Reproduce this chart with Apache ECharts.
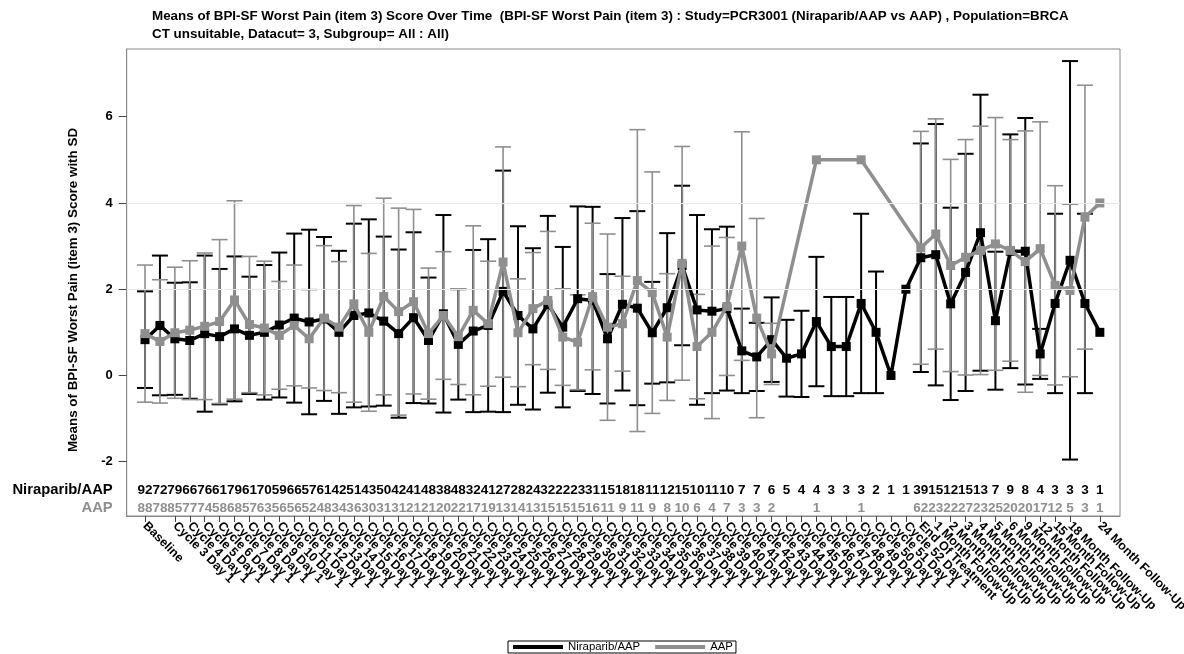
<!DOCTYPE html>
<html>
<head>
<meta charset="utf-8">
<title>Means of BPI-SF Worst Pain (item 3) Score Over Time</title>
<script src="https://cdn.jsdelivr.net/npm/echarts@6.0.0/dist/echarts.min.js"></script>
<style>
    html, body { margin: 0; padding: 0; background: #fff; }
    #chart { width: 1184px; height: 654px; }
</style>
</head>
<body>
<div id="chart"></div>
<script type="text/javascript">

    // visit labels (x axis)
    var categories = [
        'Baseline', 'Cycle 2 Day 1', 'Cycle 3 Day 1', 'Cycle 4 Day 1', 'Cycle 5 Day 1', 'Cycle 6 Day 1',
        'Cycle 7 Day 1', 'Cycle 8 Day 1', 'Cycle 9 Day 1', 'Cycle 10 Day 1', 'Cycle 11 Day 1', 'Cycle 12 Day 1',
        'Cycle 13 Day 1', 'Cycle 14 Day 1', 'Cycle 15 Day 1', 'Cycle 16 Day 1', 'Cycle 17 Day 1', 'Cycle 18 Day 1',
        'Cycle 19 Day 1', 'Cycle 20 Day 1', 'Cycle 21 Day 1', 'Cycle 22 Day 1', 'Cycle 23 Day 1', 'Cycle 24 Day 1',
        'Cycle 25 Day 1', 'Cycle 26 Day 1', 'Cycle 27 Day 1', 'Cycle 28 Day 1', 'Cycle 29 Day 1', 'Cycle 30 Day 1',
        'Cycle 31 Day 1', 'Cycle 32 Day 1', 'Cycle 33 Day 1', 'Cycle 34 Day 1', 'Cycle 35 Day 1', 'Cycle 36 Day 1',
        'Cycle 37 Day 1', 'Cycle 38 Day 1', 'Cycle 39 Day 1', 'Cycle 40 Day 1', 'Cycle 41 Day 1', 'Cycle 42 Day 1',
        'Cycle 43 Day 1', 'Cycle 44 Day 1', 'Cycle 45 Day 1', 'Cycle 46 Day 1', 'Cycle 47 Day 1', 'Cycle 48 Day 1',
        'Cycle 49 Day 1', 'Cycle 50 Day 1', 'Cycle 51 Day 1', 'Cycle 52 Day 1', 'End Of Treatment',
        '1 Month Follow-Up', '2 Month Follow-Up', '3 Month Follow-Up', '4 Month Follow-Up', '5 Month Follow-Up',
        '6 Month Follow-Up', '9 Month Follow-Up', '12 Month Follow-Up', '15 Month Follow-Up', '18 Month Follow-Up',
        '21 Month Follow-Up', '24 Month Follow-Up'
    ];

    // number of subjects per visit
    var niraN = [92, 72, 79, 66, 76, 61, 79, 61, 70, 59, 66, 57, 61, 42, 51, 43, 50, 42, 41, 48, 38, 48, 32, 41, 27,
        28, 24, 32, 22, 23, 31, 15, 18, 18, 11, 12, 15, 10, 11, 10, 7, 7, 6, 5, 4, 4, 3, 3, 3, 2, 1, 1,
        39, 15, 12, 15, 13, 7, 9, 8, 4, 3, 3, 3, 1];
    var aapN = [88, 78, 85, 77, 74, 58, 68, 57, 63, 56, 56, 52, 48, 34, 36, 30, 31, 31, 21, 21, 20, 22, 17, 19, 13,
        14, 13, 15, 15, 15, 16, 11, 9, 11, 9, 8, 10, 6, 4, 7, 3, 3, 2, null, null, 1, null, null, 1, null, null, null,
        62, 23, 22, 27, 23, 25, 20, 20, 17, 12, 5, 3, 1];

    // means and SD
    var niraMean = [0.83, 1.16, 0.85, 0.81, 0.97, 0.90, 1.08, 0.93, 1.00, 1.17, 1.33, 1.24, 1.31, 1.00, 1.39, 1.45,
        1.26, 0.97, 1.34, 0.81, 1.43, 0.72, 1.03, 1.16, 1.95, 1.39, 1.08, 1.65, 1.12, 1.78, 1.74, 0.85, 1.65, 1.56,
        0.99, 1.57, 2.55, 1.52, 1.49, 1.55, 0.57, 0.43, 0.83, 0.40, 0.50, 1.25, 0.67, 0.67, 1.67, 1.00, 0.00, 2.00,
        2.73, 2.80, 1.66, 2.39, 3.31, 1.27, 2.88, 2.88, 0.50, 1.67, 2.67, 1.67, 1.00];
    var niraSD = [1.12, 1.62, 1.30, 1.35, 1.81, 1.57, 1.68, 1.36, 1.56, 1.68, 1.96, 2.14, 1.90, 1.89, 2.13, 2.17,
        1.96, 1.95, 1.98, 1.46, 2.29, 1.28, 1.88, 2.00, 2.80, 2.07, 1.87, 2.05, 1.86, 2.14, 2.17, 1.50, 2.00, 2.25,
        1.18, 1.73, 1.85, 2.20, 1.90, 1.90, 0.98, 0.79, 0.98, 0.89, 1.00, 1.50, 1.15, 1.15, 2.08, 1.41, null, null,
        2.65, 3.03, 2.23, 2.75, 3.20, 1.60, 2.71, 3.09, 0.58, 2.08, 4.62, 2.08, null];
    var aapMean = [0.97, 0.79, 0.99, 1.05, 1.14, 1.25, 1.75, 1.18, 1.10, 0.93, 1.16, 0.85, 1.33, 1.12, 1.66, 1.00,
        1.83, 1.48, 1.71, 0.97, 1.39, 0.90, 1.51, 1.20, 2.63, 0.99, 1.55, 1.74, 0.89, 0.77, 1.83, 1.12, 1.20, 2.20,
        1.92, 0.89, 2.60, 0.67, 1.00, 1.60, 3.00, 1.33, 0.50, null, null, 5.00, null, null, 5.00, null, null, null,
        2.96, 3.28, 2.55, 2.74, 2.90, 3.05, 2.90, 2.64, 2.94, 2.09, 1.97, 3.67, 4.00];
    var aapSD = [1.59, 1.43, 1.52, 1.61, 1.70, 1.90, 2.30, 1.58, 1.55, 1.25, 1.40, 1.14, 1.68, 1.52, 2.28, 1.83,
        2.28, 2.40, 2.14, 1.52, 1.48, 1.11, 1.96, 1.45, 2.67, 1.25, 1.30, 1.60, 1.12, 1.10, 1.70, 2.16, 1.10, 3.50,
        2.80, 1.47, 2.71, 1.21, 2.00, 1.60, 2.65, 2.31, 0.71, null, null, null, null, null, null, null, null, null,
        2.70, 2.67, 2.46, 2.73, 2.88, 2.93, 2.57, 3.03, 2.94, 2.31, 2.00, 3.06, null];

    var yTicks = [-2, 0, 2, 4, 6];
    var refLines = [2, 4];

    var BLACK = '#000000';
    var GRAY = '#8f8f8f';
    var FRAME = '#888888';
    var FONT = 'Liberation Sans, Arial, sans-serif';

    var idx = categories.map(function (c, i) { return i; });

    function lineData(means) {
        return means.map(function (m, i) { return [i, m]; });
    }

    function barData(means, sds) {
        var out = [];
        means.forEach(function (m, i) {
            if (m != null && sds[i] != null) {
                out.push([i, m - sds[i], m + sds[i]]);
            }
        });
        return out;
    }

    function errorBar(color, width) {
        return function (params, api) {
            var lo = api.coord([api.value(0), api.value(1)]);
            var hi = api.coord([api.value(0), api.value(2)]);
            var h = 8;
            var st = { stroke: color, lineWidth: width };
            return {
                type: 'group',
                children: [
                    { type: 'line', shape: { x1: lo[0], y1: lo[1], x2: hi[0], y2: hi[1] }, style: st },
                    { type: 'line', shape: { x1: lo[0] - h, y1: lo[1], x2: lo[0] + h, y2: lo[1] }, style: st },
                    { type: 'line', shape: { x1: hi[0] - h, y1: hi[1], x2: hi[0] + h, y2: hi[1] }, style: st }
                ]
            };
        };
    }

    // x range chosen so visits sit inside the frame like the original
    var X_MIN = -1.227, X_MAX = 65.35;

    function countAxis(name, counts, color, offset) {
        return {
            type: 'value', gridIndex: 0, position: 'bottom', offset: offset,
            min: X_MIN, max: X_MAX,
            axisLine: { show: false, onZero: false }, axisTick: { show: false }, splitLine: { show: false },
            axisLabel: {
                customValues: idx, margin: 0, verticalAlign: 'middle',
                showMinLabel: true, showMaxLabel: true,
                color: color, fontWeight: 'bold', fontSize: 13.5, fontFamily: FONT,
                formatter: function (v) { var n = counts[v]; return n == null ? '' : String(n); }
            },
            name: name, nameLocation: 'start', nameGap: 14,
            nameTextStyle: { color: color, fontWeight: 'bold', fontSize: 14.8, fontFamily: FONT, verticalAlign: 'middle' }
        };
    }

    var myChart = echarts.init(document.getElementById('chart'), null, { renderer: 'canvas' });

    var option = {
        animation: false,
        backgroundColor: '#ffffff',
        textStyle: { fontFamily: FONT },
        title: {
            text: 'Means of BPI-SF Worst Pain (item 3) Score Over Time  (BPI-SF Worst Pain (item 3) : Study=PCR3001 (Niraparib/AAP vs AAP) , Population=BRCA\nCT unsuitable, Datacut= 3, Subgroup= All : All)',
            left: 152, top: 7, padding: 0,
            textStyle: { fontSize: 13.4, fontWeight: 'bold', color: BLACK, lineHeight: 18, fontFamily: FONT }
        },
        legend: {
            data: ['Niraparib/AAP', 'AAP'],
            left: 508, top: 641,
            icon: 'rect', itemWidth: 50, itemHeight: 4, itemGap: 15,
            padding: [0, 3, 0, 5],
            borderColor: BLACK, borderWidth: 1,
            textStyle: { fontSize: 11.4, color: BLACK, fontFamily: FONT, lineHeight: 12 }
        },
        grid: {
            left: 126.7, right: 64, top: 49, bottom: 138,
            outerBoundsMode: 'none',
            show: true, borderColor: FRAME, borderWidth: 1
        },
        xAxis: [
            {
                type: 'value', gridIndex: 0, position: 'bottom',
                min: X_MIN, max: X_MAX,
                axisLine: { show: true, onZero: false, lineStyle: { color: FRAME } },
                splitLine: { show: false },
                axisTick: { show: true, customValues: idx, length: 6, lineStyle: { color: '#444444' } },
                axisLabel: {
                    customValues: idx, rotate: -45, margin: 8,
                    showMinLabel: true, showMaxLabel: true,
                    color: BLACK, fontWeight: 'bold', fontSize: 12.5, fontFamily: FONT,
                    formatter: function (v) { return categories[v] || ''; }
                }
            },
            countAxis('Niraparib/AAP', niraN, BLACK, -26),
            countAxis('AAP', aapN, GRAY, -8)
        ],
        yAxis: {
            type: 'value', min: -3.259, max: 7.570,
            axisLine: { show: true, onZero: false, lineStyle: { color: FRAME } },
            splitLine: { show: false },
            axisTick: { show: true, customValues: yTicks, length: 8, lineStyle: { color: '#444444' } },
            axisLabel: {
                customValues: yTicks, margin: 14, showMinLabel: true, showMaxLabel: true,
                color: BLACK, fontWeight: 'bold', fontSize: 13, fontFamily: FONT
            },
            name: 'Means of BPI-SF Worst Pain (item 3) Score with SD',
            nameLocation: 'middle', nameGap: 47,
            nameTextStyle: { color: BLACK, fontWeight: 'bold', fontSize: 13.4, fontFamily: FONT, padding: [0, 15, 0, 0] }
        },
        series: [
            {
                name: 'ref', type: 'line', data: [], z: 1, silent: true,
                markLine: {
                    silent: true, symbol: ['none', 'none'], label: { show: false },
                    lineStyle: { color: '#e8e8e8', width: 1, type: 'solid' },
                    data: refLines.map(function (v) { return { yAxis: v }; })
                }
            },
            {
                name: 'Niraparib/AAP SD', type: 'custom', z: 2, silent: true,
                renderItem: errorBar(BLACK, 2),
                encode: { x: 0, y: [1, 2] },
                data: barData(niraMean, niraSD)
            },
            {
                name: 'AAP SD', type: 'custom', z: 2, silent: true,
                renderItem: errorBar(GRAY, 1.6),
                encode: { x: 0, y: [1, 2] },
                data: barData(aapMean, aapSD)
            },
            {
                name: 'Niraparib/AAP', type: 'line', z: 3,
                data: lineData(niraMean),
                symbol: 'rect', symbolSize: 9, connectNulls: true,
                lineStyle: { color: BLACK, width: 3.5 },
                itemStyle: { color: BLACK }
            },
            {
                name: 'AAP', type: 'line', z: 4,
                data: lineData(aapMean),
                symbol: 'rect', symbolSize: 9, connectNulls: true,
                lineStyle: { color: GRAY, width: 3.5 },
                itemStyle: { color: GRAY }
            }
        ]
    };

    myChart.setOption(option);

</script>
</body>
</html>
